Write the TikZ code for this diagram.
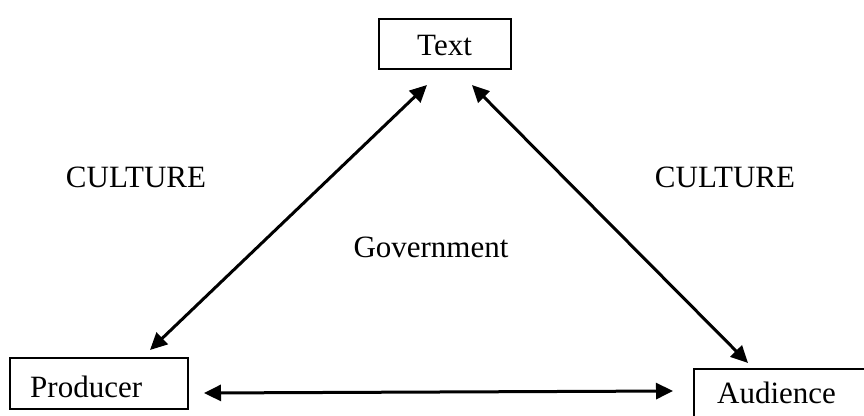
\documentclass[tikz,border=0pt]{standalone}
\usepackage{fontspec}
\setmainfont{Liberation Serif}
\usetikzlibrary{arrows.meta}
\begin{document}
\begin{tikzpicture}[x=1pt,y=-1pt,
  box/.style={draw, line width=2pt, inner sep=0pt, anchor=north west},
  lbl/.style={inner sep=0pt, font=\fontsize{31}{37}\selectfont},
  arr/.style={line width=3pt, {Triangle[length=17pt,width=16pt]}-{Triangle[length=17pt,width=16pt]}}]
\clip (0,0) rectangle (864,415);
\fill[white] (0,0) rectangle (864,415);

% the three boxes
\node[box, minimum width=132pt, minimum height=50pt] (textbox) at (378,18) {};
\node[box, minimum width=178pt, minimum height=51pt] (producer) at (9,357) {};
\node[box, minimum width=190pt, minimum height=70pt] (audience) at (693,368) {};

% box captions
\node[lbl, anchor=base west] (textlbl) at (417,55) {Text};
\node[lbl, anchor=base west] (producerlbl) at (30,397) {Producer};
\node[lbl, anchor=base west] (audiencelbl) at (717,403) {Audience};

% free labels
\node[lbl, anchor=base] (cultureleft) at (136,187) {CULTURE};
\node[lbl, anchor=base] (cultureright) at (725,187) {CULTURE};
\node[lbl, anchor=base] (government) at (431,257) {Government};

% double-headed connectors
\draw[arr] ([xshift=49pt,yshift=-15pt]textbox.south west) -- ([xshift=141pt,yshift=7pt]producer.north west);
\draw[arr] ([xshift=94pt,yshift=-15pt]textbox.south west) -- ([xshift=55pt,yshift=5pt]audience.north west);
\draw[arr] ([xshift=15pt,yshift=17pt]producer.south east) -- ([xshift=-20pt,yshift=-23pt]audience.north west);
\end{tikzpicture}
\end{document}
